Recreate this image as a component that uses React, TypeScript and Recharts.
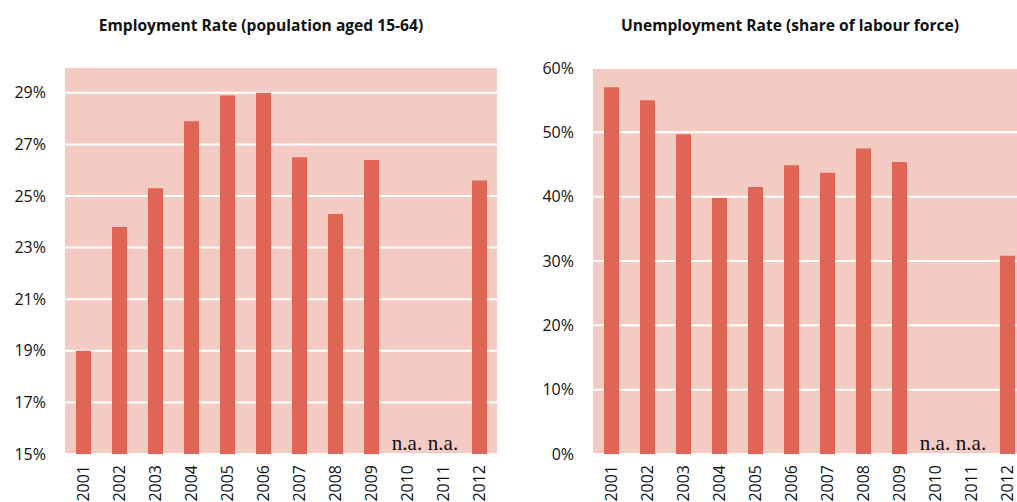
import { Bar, BarChart, CartesianGrid, ReferenceDot, XAxis, YAxis } from "recharts"

const years = ["2001", "2002", "2003", "2004", "2005", "2006", "2007", "2008", "2009", "2010", "2011", "2012"]
const employment = [19.0, 23.8, 25.3, 27.9, 28.9, 29.0, 26.5, 24.3, 26.4, null, null, 25.6]
const unemployment = [57.0, 55.0, 49.7, 39.8, 41.5, 44.9, 43.7, 47.5, 45.4, null, null, 30.8]
const employmentTicks = [15, 17, 19, 21, 23, 25, 27, 29]
const unemploymentTicks = [0, 10, 20, 30, 40, 50, 60]
const naYears = ["2010", "2011"]

const BAR = "#DF6555"
const BG = "#F4CBC2"
const FONT = "'Open Sans', sans-serif"

const employmentData = years.map((year, i) => ({ year, value: employment[i] }))
const unemploymentData = years.map((year, i) => ({ year, value: unemployment[i] }))

function YearTick({ x, y, payload }: any) {
  return (
    <g transform={`translate(${x},${y})`}>
      <text
        transform="rotate(-90)"
        x={-11}
        dy="0.35em"
        textAnchor="end"
        fontFamily={FONT}
        fontSize={16}
        fill="#111"
      >
        {payload.value}
      </text>
    </g>
  )
}

const naLabel = (props: any) => {
  const vb = props.viewBox || {}
  return (
    <text
      x={vb.x + (vb.width || 0) / 2}
      y={vb.y + (vb.height || 0) / 2 - 4}
      textAnchor="middle"
      fontFamily="'Liberation Serif', 'Times New Roman', serif"
      fontSize={21}
      fill="#111"
    >
      n.a.
    </text>
  )
}

type PanelProps = {
  data: Array<{ year: string; value: number | null }>
  domain: [number, number]
  ticks: number[]
  yWidth: number
  top: number
  right: number
  naY: number
}

function Panel({ data, domain, ticks, yWidth, top, right, naY }: PanelProps) {
  return (
    <BarChart
      width={520}
      height={540}
      data={data}
      margin={{ top, right, bottom: 0, left: 0 }}
    >
      <CartesianGrid fill={BG} stroke="#fff" strokeWidth={2} vertical={false} />
      <XAxis
        dataKey="year"
        interval={0}
        axisLine={false}
        tickLine={false}
        tickSize={0}
        tickMargin={0}
        height={86}
        tick={<YearTick />}
      />
      <YAxis
        domain={domain}
        ticks={ticks}
        allowDataOverflow
        width={yWidth}
        axisLine={false}
        tickLine={false}
        tickSize={0}
        tickMargin={19}
        tickFormatter={(v: number) => `${v}%`}
        tick={{ fontFamily: FONT, fontSize: 16, fill: "#111" }}
      />
      <Bar dataKey="value" fill={BAR} barSize={15} isAnimationActive={false} />
      {naYears.map((y) => (
        <ReferenceDot
          key={y}
          x={y}
          y={naY}
          r={0}
          fill="none"
          stroke="none"
          label={naLabel}
        />
      ))}
    </BarChart>
  )
}

const titleStyle: React.CSSProperties = {
  position: "absolute",
  top: 14,
  fontFamily: FONT,
  fontWeight: 700,
  fontSize: 15.6,
  color: "#111",
  textAlign: "center",
  whiteSpace: "nowrap",
}

export default function App() {
  return (
    <div
      style={{
        position: "absolute",
        left: 0,
        top: 0,
        width: 1017,
        height: 502,
        overflow: "hidden",
        background: "#fff",
      }}
    >
      <div style={{ ...titleStyle, left: 61, width: 400 }}>
        Employment Rate (population aged 15-64)
      </div>
      <div style={{ ...titleStyle, left: 590, width: 400 }}>
        Unemployment Rate (share of labour force)
      </div>
      <div style={{ position: "absolute", left: 0, top: 0 }}>
        <Panel
          data={employmentData}
          domain={[15, 30]}
          ticks={employmentTicks}
          yWidth={65}
          top={67}
          right={23}
          naY={15}
        />
      </div>
      <div style={{ position: "absolute", left: 520, top: 0 }}>
        <Panel
          data={unemploymentData}
          domain={[0, 60]}
          ticks={unemploymentTicks}
          yWidth={73}
          top={68}
          right={15}
          naY={0}
        />
      </div>
    </div>
  )
}
